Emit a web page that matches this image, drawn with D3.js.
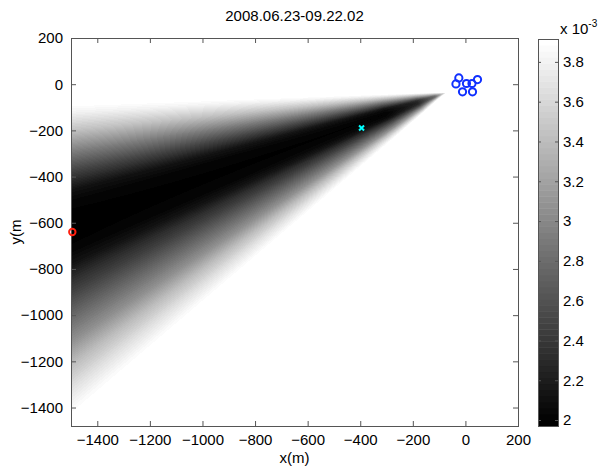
<!DOCTYPE html>
<html>
<head>
<meta charset="utf-8">
<script src="https://cdn.jsdelivr.net/npm/d3@7"></script>
<style>
  body { margin: 0; background: #fff; }
  text { font-family: "Liberation Sans", Arial, Helvetica, sans-serif; fill: #000; }
</style>
</head>
<body>
<svg id="chart" width="600" height="466"></svg>
<script>
// ---- data ----
const titleText = "2008.06.23-09.22.02";
const xTicks = [-1400, -1200, -1000, -800, -600, -400, -200, 0, 200];
const yTicks = [200, 0, -200, -400, -600, -800, -1000, -1200, -1400];
const cTicks = [2, 2.2, 2.4, 2.6, 2.8, 3, 3.2, 3.4, 3.6, 3.8];
const xDomain = [-1500, 200];
const yDomain = [-1480, 200];
const cDomain = [1.97, 3.915];          // colour limits, units of 1e-3

// receiver array
const stationX = [-25, -36, 4, 25, 46, -11, 27];
const stationY = [27, 1, 3, 3, 20, -33, -33];
// true source
const sourceX = [-1495];
const sourceY = [-640];
// estimated location
const estimateX = [-395];
const estimateY = [-190];

// beam field on a polar grid about the array apex
const apex = [-70, -35];
// angle below the westward horizontal, degrees
const fieldAngles = [-5, 0, 2, 3.5, 6.5, 10, 13.5, 16.5, 18.5, 22, 25.5, 27.5, 29, 31, 33, 35, 37, 39.5, 42, 44, 46, 50];
// distance from apex, metres
const fieldRadii = [0, 50, 120, 250, 1800];
const fieldValues = [
  [3.95, 3.95, 3.95, 3.95, 3.95, 3.95, 3.95, 3.95, 3.95, 3.95, 3.95, 3.95, 3.95, 3.95, 3.95, 3.95, 3.95, 3.95, 3.95, 3.95, 3.95, 3.95],
  [3.95, 3.95, 3.93, 3.85, 3.65, 3.4, 3.15, 2.95, 2.85, 2.8, 2.85, 2.95, 3.05, 3.2, 3.35, 3.5, 3.65, 3.8, 3.9, 3.95, 3.95, 3.95],
  [3.95, 3.95, 3.92, 3.8, 3.5, 3.1, 2.7, 2.4, 2.3, 2.25, 2.3, 2.4, 2.5, 2.65, 2.85, 3.05, 3.25, 3.5, 3.75, 3.9, 3.95, 3.95],
  [3.95, 3.95, 3.92, 3.8, 3.45, 2.95, 2.5, 2.15, 2.05, 2.0, 2.05, 2.15, 2.3, 2.47, 2.67, 2.87, 3.07, 3.42, 3.7, 3.88, 3.95, 3.95],
  [3.95, 3.95, 3.92, 3.8, 3.45, 2.95, 2.47, 2.1, 2.0, 1.97, 2.0, 2.12, 2.28, 2.45, 2.65, 2.85, 3.05, 3.4, 3.68, 3.88, 3.95, 3.95]
];

// ---- layout ----
const plot = { left: 71, right: 518, top: 38, bottom: 426 };
const cbar = { left: 538, right: 558, top: 39, bottom: 426 };
const axisColor = "#555";
const fontSize = 15;

const svg = d3.select("#chart");
const xs = d3.scaleLinear().domain(xDomain).range([plot.left, plot.right]);
const ys = d3.scaleLinear().domain(yDomain).range([plot.bottom, plot.top]);
const level = d3.scaleQuantize().domain(cDomain).range(d3.range(64));
const grayOf = i => Math.round(i / 63 * 255);

// bilinear lookup in the polar table
function lookup(r, a) {
  if (a <= fieldAngles[0] || a >= fieldAngles[fieldAngles.length - 1]) return cDomain[1] + 1;
  const ia = Math.max(1, d3.bisectRight(fieldAngles, a)) - 1;
  const ta = (a - fieldAngles[ia]) / (fieldAngles[ia + 1] - fieldAngles[ia]);
  let ir = Math.max(1, d3.bisectRight(fieldRadii, r)) - 1;
  if (ir > fieldRadii.length - 2) ir = fieldRadii.length - 2;
  const tr = Math.min(1, (r - fieldRadii[ir]) / (fieldRadii[ir + 1] - fieldRadii[ir]));
  const row = i => fieldValues[i][ia] * (1 - ta) + fieldValues[i][ia + 1] * ta;
  return row(ir) * (1 - tr) + row(ir + 1) * tr;
}

// ---- field image ----
const w = plot.right - plot.left, h = plot.bottom - plot.top;
const canvas = document.createElement("canvas");
canvas.width = w; canvas.height = h;
const ctx = canvas.getContext("2d");
const img = ctx.createImageData(w, h);
for (let j = 0; j < h; j++) {
  const y = ys.invert(plot.top + j + 0.5);
  for (let i = 0; i < w; i++) {
    const x = xs.invert(plot.left + i + 0.5);
    const dx = apex[0] - x, dy = apex[1] - y;
    const r = Math.hypot(dx, dy);
    const a = Math.atan2(dy, dx) * 180 / Math.PI;
    const g = grayOf(level(lookup(r, a)));
    const k = (j * w + i) * 4;
    img.data[k] = img.data[k + 1] = img.data[k + 2] = g;
    img.data[k + 3] = 255;
  }
}
ctx.putImageData(img, 0, 0);
svg.append("image")
  .attr("x", plot.left).attr("y", plot.top)
  .attr("width", w).attr("height", h)
  .attr("href", canvas.toDataURL());

// ---- axes ----
function styleAxis(g) {
  g.attr("font-size", fontSize).attr("font-family", null);
  g.select(".domain").remove();
  g.selectAll(".tick line").attr("stroke", axisColor);
  g.selectAll(".tick text").attr("fill", "#000");
}
svg.append("g").attr("transform", `translate(0,${plot.bottom})`)
  .call(d3.axisBottom(xs).tickValues(xTicks).tickSize(-5).tickPadding(8).tickFormat(d3.format("d")))
  .call(styleAxis);
svg.append("g").attr("transform", `translate(0,${plot.top})`)
  .call(d3.axisTop(xs).tickValues(xTicks).tickSize(-5).tickFormat(""))
  .call(styleAxis);
svg.append("g").attr("transform", `translate(${plot.left},0)`)
  .call(d3.axisLeft(ys).tickValues(yTicks).tickSize(-5).tickPadding(8).tickFormat(d3.format("d")))
  .call(styleAxis);
svg.append("g").attr("transform", `translate(${plot.right},0)`)
  .call(d3.axisRight(ys).tickValues(yTicks).tickSize(-5).tickFormat(""))
  .call(styleAxis);
svg.append("rect")
  .attr("x", plot.left + 0.5).attr("y", plot.top + 0.5)
  .attr("width", w).attr("height", h)
  .attr("fill", "none").attr("stroke", axisColor);

// ---- markers ----
svg.append("g").selectAll("circle").data(stationX).join("circle")
  .attr("cx", (d, i) => xs(d)).attr("cy", (d, i) => ys(stationY[i]))
  .attr("r", 3.6).attr("fill", "none").attr("stroke", "#1030ff").attr("stroke-width", 2);
svg.append("g").selectAll("circle").data(sourceX).join("circle")
  .attr("cx", d => xs(d)).attr("cy", (d, i) => ys(sourceY[i]))
  .attr("r", 3.2).attr("fill", "none").attr("stroke", "#ff2010").attr("stroke-width", 2);
svg.append("g").selectAll("path").data(estimateX).join("path")
  .attr("d", (d, i) => {
    const cx = xs(d), cy = ys(estimateY[i]), s = 2.5;
    return `M${cx - s},${cy - s}L${cx + s},${cy + s}M${cx - s},${cy + s}L${cx + s},${cy - s}`;
  })
  .attr("stroke", "#00ffff").attr("stroke-width", 2).attr("fill", "none");

// ---- labels ----
svg.append("text").attr("x", (plot.left + plot.right) / 2).attr("y", 21)
  .attr("text-anchor", "middle").attr("font-size", fontSize).text(titleText);
svg.append("text").attr("x", (plot.left + plot.right) / 2).attr("y", 463)
  .attr("text-anchor", "middle").attr("font-size", fontSize).text("x(m)");
svg.append("text").attr("transform", `translate(21,${(plot.top + plot.bottom) / 2}) rotate(-90)`)
  .attr("text-anchor", "middle").attr("font-size", fontSize).text("y(m");

// ---- colour bar ----
const cs = d3.scaleLinear().domain(cDomain).range([cbar.bottom, cbar.top]);
const step = (cDomain[1] - cDomain[0]) / 64;
svg.append("g").selectAll("rect").data(d3.range(64)).join("rect")
  .attr("x", cbar.left).attr("width", cbar.right - cbar.left)
  .attr("y", i => cs(cDomain[0] + (i + 1) * step))
  .attr("height", i => cs(cDomain[0] + i * step) - cs(cDomain[0] + (i + 1) * step) + 0.5)
  .attr("fill", i => { const g = grayOf(i); return `rgb(${g},${g},${g})`; });
svg.append("g").attr("transform", `translate(${cbar.right},0)`)
  .call(d3.axisRight(cs).tickValues(cTicks).tickSize(-3).tickPadding(5).tickFormat(d => d3.format("")(+d.toFixed(1))))
  .call(styleAxis);
svg.append("g").attr("transform", `translate(${cbar.left},0)`)
  .call(d3.axisLeft(cs).tickValues(cTicks).tickSize(-3).tickFormat(""))
  .call(styleAxis);
svg.append("rect")
  .attr("x", cbar.left + 0.5).attr("y", cbar.top + 0.5)
  .attr("width", cbar.right - cbar.left).attr("height", cbar.bottom - cbar.top)
  .attr("fill", "none").attr("stroke", axisColor);
const exp = svg.append("text").attr("x", 560).attr("y", 34).attr("font-size", fontSize);
exp.append("tspan").text("x 10");
exp.append("tspan").attr("dy", -7).attr("font-size", 10).text("-3");
</script>
</body>
</html>
